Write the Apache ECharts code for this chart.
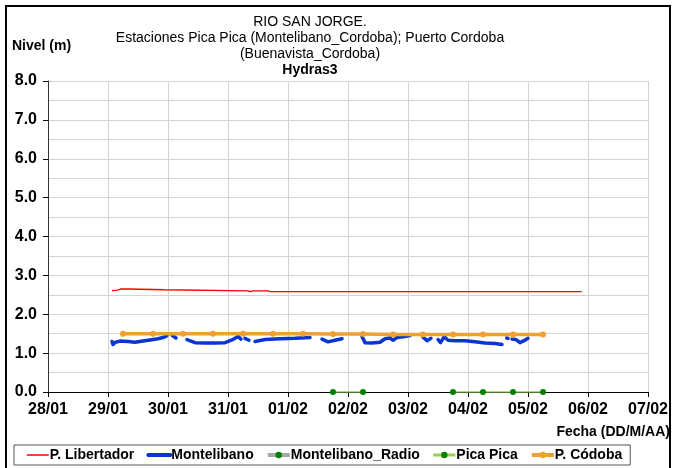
<!DOCTYPE html>
<html>
<head>
<meta charset="utf-8">
<script src="https://cdn.jsdelivr.net/npm/echarts@6/dist/echarts.min.js"></script>
<style>
html,body{margin:0;padding:0;background:#fff;}
#c{width:673px;height:468px;}
</style>
</head>
<body>
<div id="c"></div>
<script>
// ---- data (times are DD/MM HH:mm, year irrelevant) ----
const YEAR = 2014;
const xTickMin = '28/01 00:00';
const xTickMax = '07/02 00:00';
const yTicks = [0, 1, 2, 3, 4, 5, 6, 7, 8];

const libertadorTimes = ['29/01 01:36','29/01 04:00','29/01 05:00','29/01 08:00','29/01 08:40','29/01 22:30','29/01 23:00','31/01 08:00','31/01 09:00','31/01 10:00','31/01 16:00','31/01 17:00','05/02 21:30'];
const libertadorValues = [2.61, 2.62, 2.65, 2.65, 2.63, 2.63, 2.60, 2.60, 2.58, 2.60, 2.60, 2.58, 2.58];

const montelibanoTimes = [
 '29/01 01:36','29/01 02:00','29/01 03:00','29/01 04:48','29/01 08:00','29/01 10:48','29/01 14:00','29/01 16:48','29/01 20:00','29/01 22:00','29/01 23:36',
 '30/01 00:30',
 '30/01 01:36','30/01 03:12',
 '30/01 05:00',
 '30/01 07:36','30/01 10:48','30/01 14:48','30/01 18:48','30/01 22:48','31/01 01:36','31/01 04:00','31/01 05:12',
 '31/01 06:00',
 '31/01 06:48','31/01 08:24',
 '31/01 09:30',
 '31/01 10:48','31/01 14:48','31/01 20:48','01/02 02:48','01/02 08:48',
 '01/02 11:00',
 '01/02 13:36','01/02 16:00','01/02 18:48','01/02 21:36',
 '02/02 02:00',
 '02/02 05:36','02/02 06:48','02/02 09:36','02/02 12:48','02/02 14:48','02/02 16:48','02/02 18:00','02/02 19:36','02/02 22:00','03/02 00:48',
 '03/02 03:00',
 '03/02 06:00','03/02 07:36','03/02 09:12',
 '03/02 10:30',
 '03/02 12:00','03/02 13:00','03/02 14:30','03/02 16:00','03/02 18:48','03/02 22:48','04/02 02:48','04/02 06:48','04/02 10:48','04/02 13:36',
 '04/02 14:30',
 '04/02 15:30','04/02 16:00',
 '04/02 16:40',
 '04/02 17:36','04/02 19:12','04/02 20:48','04/02 22:24','04/02 24:00'
];
const montelibanoValues = [
 1.30, 1.22, 1.28, 1.31, 1.30, 1.28, 1.31, 1.34, 1.37, 1.40, 1.45,
 null,
 1.46, 1.39,
 null,
 1.35, 1.27, 1.26, 1.26, 1.27, 1.34, 1.43, 1.36,
 null,
 1.38, 1.33,
 null,
 1.30, 1.35, 1.37, 1.38, 1.40,
 null,
 1.36, 1.29, 1.33, 1.37,
 null,
 1.43, 1.27, 1.26, 1.28, 1.37, 1.39, 1.33, 1.40, 1.42, 1.45,
 null,
 1.41, 1.32, 1.38,
 null,
 1.35, 1.27, 1.42, 1.33, 1.32, 1.32, 1.29, 1.26, 1.25, 1.22,
 null,
 1.39, 1.38,
 null,
 1.36, 1.35, 1.27, 1.32, 1.38
];

const cordobaTimes = ['29/01 06:00','29/01 18:00','30/01 06:00','30/01 18:00','31/01 06:00','31/01 18:00','01/02 06:00','01/02 18:00','02/02 06:00','02/02 18:00','03/02 06:00','03/02 18:00','04/02 06:00','04/02 18:00','05/02 06:00'];
const cordobaValues = [1.50, 1.50, 1.50, 1.50, 1.50, 1.50, 1.50, 1.49, 1.49, 1.48, 1.48, 1.48, 1.48, 1.48, 1.48];

const picaTimes = ['01/02 18:00','02/02 06:00','02/02 18:00','03/02 18:00','04/02 06:00','04/02 18:00','05/02 06:00'];
const picaValues = [0.0, 0.0, null, 0.0, 0.0, 0.0, 0.0];

const radioTimes = [];
const radioValues = [];

const seriesNames = ['P. Libertador', 'Montelibano', 'Montelibano_Radio', 'Pica Pica', 'P. Códoba'];

// ---- helpers ----
function toMs(s) {
  const [d, t] = s.split(' ');
  const [dd, mm] = d.split('/').map(Number);
  const [hh, mi] = t.split(':').map(Number);
  return Date.UTC(YEAR, mm - 1, dd, hh, mi);
}
function pairs(times, values) {
  return times.map((t, i) => [toMs(t), values[i]]);
}
function pad(n) { return (n < 10 ? '0' : '') + n; }

const DAY = 86400000;
const FF = '"Liberation Sans", Arial, sans-serif';
const bold = { fontFamily: FF, fontWeight: 'bold', color: '#000' };

const chart = echarts.init(document.getElementById('c'));
chart.setOption({
  animation: false,
  backgroundColor: '#fff',
  textStyle: { fontFamily: FF },
  grid: { left: 48, right: 25, top: 81, bottom: 76, containLabel: false },
  graphic: [
    { type: 'rect', shape: { x: 6, y: 6, width: 664, height: 480 }, style: { fill: 'none', stroke: '#000', lineWidth: 2 }, silent: true },
    { type: 'text', left: 12, top: 39, style: { text: 'Nivel (m)', font: 'bold 14px ' + FF, fill: '#000' } },
    { type: 'text', right: 3, top: 425, style: { text: 'Fecha (DD/M/AA)', font: 'bold 14px ' + FF, fill: '#000' } }
  ],
  title: {
    text: 'RIO SAN JORGE.\nEstaciones Pica Pica (Montelibano_Cordoba); Puerto Cordoba\n(Buenavista_Cordoba)',
    subtext: 'Hydras3',
    left: 305, top: 9, textAlign: 'center',
    itemGap: 0,
    textStyle: { fontSize: 14, fontWeight: 'normal', color: '#000', lineHeight: 16, fontFamily: FF },
    subtextStyle: { fontSize: 14, fontWeight: 'bold', color: '#000', lineHeight: 16, fontFamily: FF }
  },
  legend: {
    data: [
      { name: seriesNames[0], itemStyle: { opacity: 0 }, lineStyle: { width: 1.5 } },
      { name: seriesNames[1], itemStyle: { opacity: 0 }, lineStyle: { width: 4 } },
      { name: seriesNames[2], lineStyle: { width: 4 } },
      { name: seriesNames[3], lineStyle: { width: 3 } },
      { name: seriesNames[4], lineStyle: { width: 4 } }
    ],
    left: 14, top: 445,
    orient: 'horizontal',
    borderColor: '#555', borderWidth: 1,
    padding: [3, 8, 3, 12],
    itemGap: 12, itemWidth: 22, itemHeight: 8,
    textStyle: { fontSize: 14, fontWeight: 'bold', color: '#000', padding: [0, 0, 0, -4], fontFamily: FF }
  },
  xAxis: {
    type: 'value',
    min: toMs(xTickMin), max: toMs(xTickMax), interval: DAY,
    axisLine: { show: true, lineStyle: { color: '#000', width: 1 } },
    axisTick: { show: true, length: 5, lineStyle: { color: '#000' } },
    axisLabel: {
      ...bold, fontSize: 16, margin: 10,
      formatter: v => { const d = new Date(v); return pad(d.getUTCDate()) + '/' + pad(d.getUTCMonth() + 1); }
    },
    splitLine: { show: true, lineStyle: { color: '#d4d4d4', width: 1 } }
  },
  yAxis: {
    type: 'value',
    min: yTicks[0], max: yTicks[yTicks.length - 1], interval: 1,
    axisLine: { show: true, lineStyle: { color: '#333', width: 1 } },
    axisTick: { show: true, length: 5, lineStyle: { color: '#000' } },
    axisLabel: { ...bold, fontSize: 16, margin: 11, formatter: v => v.toFixed(1) },
    splitLine: { show: true, lineStyle: { color: '#d4d4d4', width: 1 } },
    minorTick: { show: false, splitNumber: 2 },
    minorSplitLine: { show: true, lineStyle: { color: '#d4d4d4', width: 1 } }
  },
  series: [
    {
      name: seriesNames[0], type: 'line', data: pairs(libertadorTimes, libertadorValues),
      symbol: 'none', lineStyle: { color: '#ff0000', width: 1.3 }, itemStyle: { color: '#ff0000' }, z: 3
    },
    {
      name: seriesNames[1], type: 'line', data: pairs(montelibanoTimes, montelibanoValues),
      symbol: 'none', connectNulls: false,
      lineStyle: { color: '#0a36cf', width: 3.5, join: 'round', cap: 'round' }, itemStyle: { color: '#0a36cf' }, z: 2
    },
    {
      name: seriesNames[2], type: 'line', data: pairs(radioTimes, radioValues),
      symbol: 'circle', symbolSize: 6,
      lineStyle: { color: '#a6a6a6', width: 3.5 }, itemStyle: { color: '#008000' }
    },
    {
      name: seriesNames[3], type: 'line', data: pairs(picaTimes, picaValues),
      symbol: 'circle', symbolSize: 6, connectNulls: false,
      lineStyle: { color: '#92d050', width: 1.5 }, itemStyle: { color: '#008000' }, z: 4
    },
    {
      name: seriesNames[4], type: 'line', data: pairs(cordobaTimes, cordobaValues),
      symbol: 'circle', symbolSize: 6,
      lineStyle: { color: '#f0a030', width: 3.5 }, itemStyle: { color: '#f0a030' }, z: 5
    }
  ]
});
</script>
</body>
</html>
